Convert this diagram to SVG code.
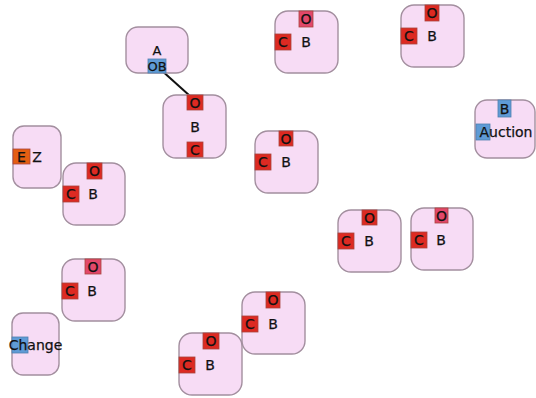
<svg xmlns="http://www.w3.org/2000/svg" width="536" height="398" viewBox="0 0 536 398">
<style>
.n{fill:#f7dcf5;stroke:#a38f9f;stroke-width:1.4}
.r{fill:#dd2a22;stroke:#a8443c;stroke-width:0.8}
.p{fill:#e2486a;stroke:#a8443c;stroke-width:0.8}
.b{fill:#5f9bd6;stroke:#4f7fae;stroke-width:0.8}
.o{fill:#e45e12;stroke:#a8443c;stroke-width:0.8}
text{font-family:"DejaVu Sans",sans-serif;font-size:14px;fill:#111;text-anchor:middle;stroke:#111;stroke-width:0.25}
.t{font-size:14px}
.s{font-size:13px}
</style>
<rect width="536" height="398" fill="#fff"/>
<g id="connectors">
<line x1="160" y1="69" x2="190" y2="96" stroke="#111" stroke-width="2"/>
</g>
<g id="nodeA">
<rect class="n" x="126" y="27" width="62" height="46" rx="12"/>
<text class="s" x="157" y="55">A</text>
<rect class="b" x="148" y="59" width="18" height="14"/>
<text class="s" x="157" y="71">OB</text>
</g>
<g id="nodeB1" transform="translate(163,95)">
<rect class="n" x="0" y="0" width="63" height="63" rx="13"/>
<rect class="r" x="24" y="0" width="16" height="15"/>
<text class="t" x="32" y="13">O</text>
<text x="32" y="37">B</text>
<rect class="r" x="24" y="47" width="16" height="15"/>
<text class="t" x="32" y="60">C</text>
</g>
<g id="nodeB2" transform="translate(275,11)">
<rect class="n" x="0" y="0" width="63" height="62" rx="13"/>
<rect class="p" x="24" y="0" width="14" height="16"/>
<text class="t" x="31" y="13">O</text>
<rect class="r" x="0" y="23" width="16" height="16"/>
<text class="t" x="8" y="36">C</text>
<text x="31" y="36">B</text>
</g>
<g id="nodeB3" transform="translate(401,5)">
<rect class="n" x="0" y="0" width="63" height="62" rx="13"/>
<rect class="r" x="24" y="0" width="14" height="16"/>
<text class="t" x="31" y="13">O</text>
<rect class="r" x="0" y="23" width="16" height="16"/>
<text class="t" x="8" y="36">C</text>
<text x="31" y="36">B</text>
</g>
<g id="nodeAuction">
<rect class="n" x="475" y="100" width="60" height="58" rx="12"/>
<rect class="b" x="498" y="100" width="13" height="17"/>
<text x="504.5" y="114">B</text>
<rect class="b" x="476" y="124" width="14" height="16"/>
<text class="t" x="506" y="137">Auction</text>
</g>
<g id="nodeEZ">
<rect class="n" x="13" y="126" width="48" height="62" rx="11"/>
<rect class="o" x="13" y="149" width="17" height="15"/>
<text class="t" x="21.5" y="162">E</text>
<text x="37" y="162">Z</text>
</g>
<g id="nodeB4" transform="translate(63,163)">
<rect class="n" x="0" y="0" width="62" height="62" rx="13"/>
<rect class="r" x="24" y="0" width="15" height="16"/>
<text class="t" x="31.5" y="13">O</text>
<rect class="r" x="0" y="23" width="16" height="16"/>
<text class="t" x="8" y="36">C</text>
<text x="30" y="36">B</text>
</g>
<g id="nodeB5" transform="translate(255,131)">
<rect class="n" x="0" y="0" width="63" height="62" rx="13"/>
<rect class="r" x="24" y="0" width="14" height="15"/>
<text class="t" x="31" y="13">O</text>
<rect class="r" x="0" y="23" width="16" height="16"/>
<text class="t" x="8" y="36">C</text>
<text x="31" y="36">B</text>
</g>
<g id="nodeB6" transform="translate(338,210)">
<rect class="n" x="0" y="0" width="63" height="62" rx="13"/>
<rect class="r" x="24" y="0" width="15" height="15"/>
<text class="t" x="31.5" y="13">O</text>
<rect class="r" x="0" y="23" width="16" height="16"/>
<text class="t" x="8" y="36">C</text>
<text x="31" y="36">B</text>
</g>
<g id="nodeB7" transform="translate(411,208)">
<rect class="n" x="0" y="0" width="62" height="62" rx="13"/>
<rect class="p" x="24" y="0" width="13" height="15"/>
<text class="t" x="30.5" y="13">O</text>
<rect class="r" x="0" y="24" width="16" height="16"/>
<text class="t" x="8" y="37">C</text>
<text x="30" y="37">B</text>
</g>
<g id="nodeB8" transform="translate(62,259)">
<rect class="n" x="0" y="0" width="63" height="62" rx="13"/>
<rect class="p" x="23" y="0" width="16" height="15"/>
<text class="t" x="31" y="13">O</text>
<rect class="r" x="0" y="24" width="16" height="16"/>
<text class="t" x="8" y="37">C</text>
<text x="30" y="37">B</text>
</g>
<g id="nodeChange">
<rect class="n" x="12" y="313" width="47" height="62" rx="11"/>
<rect class="b" x="12" y="337" width="16" height="16"/>
<text class="t" x="35.5" y="350">Change</text>
</g>
<g id="nodeB9" transform="translate(242,292)">
<rect class="n" x="0" y="0" width="63" height="62" rx="13"/>
<rect class="r" x="24" y="0" width="14" height="16"/>
<text class="t" x="31" y="13">O</text>
<rect class="r" x="0" y="24" width="16" height="16"/>
<text class="t" x="8" y="37">C</text>
<text x="31" y="37">B</text>
</g>
<g id="nodeB10" transform="translate(179,333)">
<rect class="n" x="0" y="0" width="63" height="62" rx="13"/>
<rect class="r" x="24" y="0" width="16" height="16"/>
<text class="t" x="32" y="13">O</text>
<rect class="r" x="0" y="24" width="16" height="16"/>
<text class="t" x="8" y="37">C</text>
<text x="31" y="37">B</text>
</g>
</svg>
